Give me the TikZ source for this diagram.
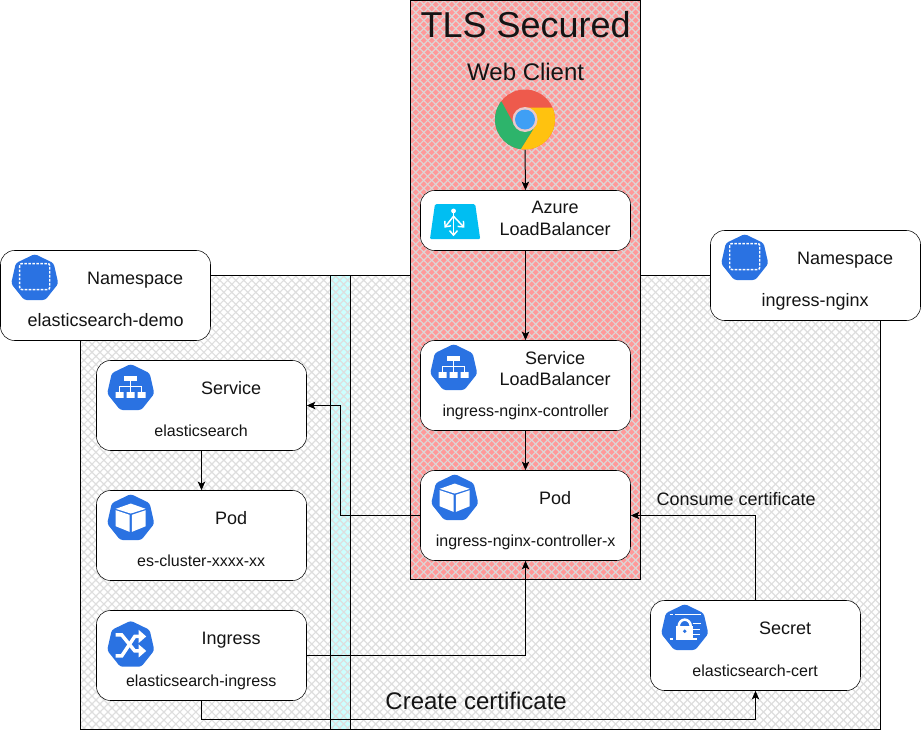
\documentclass[tikz,border=0pt]{standalone}
\usepackage{fontspec}
\setmainfont{Liberation Sans}
\usetikzlibrary{arrows.meta,patterns.meta,positioning}
\definecolor{kblue}{HTML}{2A72E2}
\definecolor{hatchgray}{HTML}{DEDEDE}
\definecolor{hatchred}{HTML}{DCD6D6}
\definecolor{lbcyan}{HTML}{00BEF2}
\definecolor{chred}{HTML}{EE5A4C}
\definecolor{chyellow}{HTML}{FFC20F}
\definecolor{chgreen}{HTML}{2DB46B}
\definecolor{chring}{HTML}{EBC9CB}
\definecolor{chblue}{HTML}{3F9FF5}
\definecolor{panelred}{HTML}{FF9999}
\definecolor{panelcyan}{HTML}{CCFFFF}
\tikzset{
  x=0.75pt,y=-0.75pt,
  line width=0.75pt,
  conn/.style={draw=black,line width=0.75pt,-{Stealth[length=6.5pt,width=5.6pt,inset=1.6pt]}},
  cardbox/.style={draw=black,fill=white,rounded corners=10.5pt,minimum width=157.5pt,inner sep=0pt},
  tall/.style={cardbox,minimum height=67.5pt},
  short/.style={cardbox,minimum height=45pt},
  txt/.style={inner sep=0pt,anchor=base,text=black!92,xshift=0.5pt,yshift=-0.75pt},
  big/.style={txt,font=\fontsize{13.5pt}{16pt}\selectfont},
  small/.style={txt,font=\fontsize{12pt}{14pt}\selectfont},
  large/.style={txt,font=\fontsize{18pt}{21pt}\selectfont},
  huge/.style={txt,font=\fontsize{27pt}{32pt}\selectfont},
  hatchA/.style={pattern={Lines[angle=45,distance=4.24pt,line width=0.9pt]},pattern color=#1},
  hatchB/.style={pattern={Lines[angle=-45,distance=4.24pt,line width=0.9pt]},pattern color=#1},
}
\newcommand{\panelfill}[6]{%
  \fill[#5] (#1,#2) rectangle (#3,#4);
  \path[hatchA=#6] (#1,#2) rectangle (#3,#4);
  \path[hatchB=#6] (#1,#2) rectangle (#3,#4);
}
\newcommand{\hept}{%
  \fill[kblue,rounded corners=2pt] (-90:24.2) -- (-38.57:24.2) -- (12.86:24.2) -- (64.29:24.2) -- (115.71:24.2) -- (167.14:24.2) -- (218.57:24.2) -- cycle;
}
\newcommand{\nsicon}{\hept
  \draw[white,line width=1.1pt,dash pattern=on 2pt off 1pt,rounded corners=1.5pt] (-15,-14.7) rectangle (15,11.3);}
\newcommand{\svcicon}{\hept
  \fill[white] (-6.5,-12.7) rectangle (6.5,-7.7);
  \fill[white] (-15,4) rectangle (-7,9.6) (-4,4) rectangle (4,9.6) (7,4) rectangle (15,9.6);
  \draw[white,line width=0.75pt] (0,-7.7) -- (0,4) (-11,4) -- (-11,-1.5) -- (11,-1.5) -- (11,4);}
\newcommand{\podicon}{\hept
  \fill[white] (-15,-9.4) -- (0,-14.7) -- (15,-9.4) -- (0,-4.7) -- cycle;
  \fill[white] (-15,-8) -- (-1.2,-3.4) -- (-1.2,13.6) -- (-15,8) -- cycle;
  \fill[white] (1.2,-3.4) -- (15,-8) -- (15,8) -- (1.2,13.6) -- cycle;}
\newcommand{\ingicon}{\hept
  \draw[white,line width=2.6pt] (-15,-10) -- (-9,-10) -- (4,6) -- (10,6);
  \draw[white,line width=2.6pt] (-15,11) -- (-9,11) -- (4,-8.5) -- (10,-8.5);
  \fill[white] (8,-0.5) -- (15.5,6) -- (8,12.5) -- cycle;
  \fill[white] (8,-15) -- (15.5,-8.5) -- (8,-2) -- cycle;}
\newcommand{\secicon}{\hept
  \draw[white,line width=1.4pt] (-10,-13.7) -- (16.5,-13.7);
  \draw[white,line width=1.4pt] (-15,-13.7) -- (-12,-13.7);
  \draw[white,line width=1.9pt] (-6,-2) arc[start angle=180,end angle=360,x radius=6,y radius=6.6];
  \fill[white] (-8.3,-2.7) rectangle (8.3,11.3);
  \fill[kblue] (0,3) circle[radius=1.8];
  \draw[white,line width=1.4pt] (8,-4.7) -- (16,-4.7) (8,1.3) -- (15,1.3) (8,6.3) -- (15,6.3);
  \draw[white,line width=1.4pt] (-15,10.7) -- (-12,10.7) (-8,11) -- (12,11);}
\newcommand{\lbicon}{%
  \fill[lbcyan,rounded corners=1pt] (14.7,14) -- (55,14) -- (60,49) -- (9.7,49) -- cycle;
  \fill[white] (33.3,20.7) circle[radius=2.4];
  \draw[white,line width=1.1pt,-{Straight Barb[length=3.4pt,width=6pt]}] (33.3,21) -- (33.3,46);
  \draw[white,line width=1.1pt,-{Straight Barb[length=3.4pt,width=6pt]}] (33.3,26) -- (24.2,37.5);
  \draw[white,line width=1.1pt,-{Straight Barb[length=3.4pt,width=6pt]}] (33.3,26) -- (44.2,37.5);}
\begin{document}
\begin{tikzpicture}
\useasboundingbox (0.5,0.5) rectangle (921.5,732.5);
% panels
\panelfill{81}{276}{881}{730}{white}{hatchgray}
\draw (81,276) rectangle (881,730);
\panelfill{331}{276}{351}{730}{panelcyan}{hatchgray}
\draw (331,276) rectangle (351,730);
\panelfill{411}{1}{641}{580}{panelred}{hatchred}
\draw (411,1) rectangle (641,580);
% cards
\node[tall] (nsl) at (106,296) {};
\node[tall] (nsr) at (816,276) {};
\node[short] (azure) at (526,221) {};
\node[tall] (svclb) at (526,386) {};
\node[tall] (podx) at (526,516) {};
\node[tall] (svc) at (202,406) {};
\node[tall] (pode) at (202,536) {};
\node[tall] (ing) at (202,656) {};
\node[tall] (sec) at (756,646) {};
% icons
\begin{scope}[shift={(nsl.north west)}]\begin{scope}[shift={(34.5,28)}]\nsicon\end{scope}\end{scope}
\begin{scope}[shift={(nsr.north west)}]\begin{scope}[shift={(34.5,28)}]\nsicon\end{scope}\end{scope}
\begin{scope}[shift={(svclb.north west)}]\begin{scope}[shift={(33.5,28)}]\svcicon\end{scope}\end{scope}
\begin{scope}[shift={(svc.north west)}]\begin{scope}[shift={(34.5,28)}]\svcicon\end{scope}\end{scope}
\begin{scope}[shift={(podx.north west)}]\begin{scope}[shift={(34.5,28)}]\podicon\end{scope}\end{scope}
\begin{scope}[shift={(pode.north west)}]\begin{scope}[shift={(34.5,28)}]\podicon\end{scope}\end{scope}
\begin{scope}[shift={(ing.north west)}]\begin{scope}[shift={(34.5,34.7)}]\ingicon\end{scope}\end{scope}
\begin{scope}[shift={(sec.north west)}]\begin{scope}[shift={(34.5,28)}]\secicon\end{scope}\end{scope}
\begin{scope}[shift={(azure.north west)}]\lbicon\end{scope}
% chrome
\node[circle,minimum size=45pt,inner sep=0pt] (chrome) at (525.5,120) {};
\begin{scope}
\clip (525.5,120) circle[radius=30];
\fill[chred] (490,80) rectangle (570,160);
\fill[chyellow] (525.5,108) -- (570,108) -- (570,160) -- (521,160) -- (521,150) -- (536,126) -- cycle;
\fill[chgreen] (502,102) -- (515,126) -- (536,126) -- (521,150) -- (521,160) -- (480,160) -- (480,102) -- cycle;
\end{scope}
\fill[chring] (525.5,120) circle[radius=12.5];
\fill[chblue] (525.5,120) circle[radius=10];
% text
\node[huge] (tls) at (525.5,37) {TLS Secured};
\node[large] (web) at (525.5,80) {Web Client};
\node[big] (az1) at (555,213) {Azure};
\node[big] (az2) at (555,235) {LoadBalancer};
\node[big] (nsl1) at (135,284) {Namespace};
\node[big] (nsl2) at (105.5,326) {elasticsearch-demo};
\node[big] (nsr1) at (845,264) {Namespace};
\node[big] (nsr2) at (815,306) {ingress-nginx};
\node[big] (lb1) at (555,364) {Service};
\node[big] (lb2) at (555,385) {LoadBalancer};
\node[small] (lb3) at (525.5,416) {ingress-nginx-controller};
\node[big] (px1) at (555,504) {Pod};
\node[small] (px2) at (525.5,546) {ingress-nginx-controller-x};
\node[big] (sv1) at (231,394) {Service};
\node[small] (sv2) at (201,436) {elasticsearch};
\node[big] (pe1) at (231,524) {Pod};
\node[small] (pe2) at (201,566) {es-cluster-xxxx-xx};
\node[big] (in1) at (231,644) {Ingress};
\node[small] (in2) at (201,686) {elasticsearch-ingress};
\node[big] (se1) at (785,634) {Secret};
\node[small] (se2) at (755,676) {elasticsearch-cert};
\node[big] (cons) at (736,505) {Consume certificate};
\node[large] (crea) at (476,709) {Create certificate};
% connectors
\coordinate (b1) at (341,406);
\coordinate (b2) at (202,720);
\coordinate (b3) at (756,720);
\draw[conn] (chrome.south) -- (azure.north);
\draw[conn] (azure.south) -- (svclb.north);
\draw[conn] (svclb.south) -- (podx.north);
\draw[conn] (svc.south) -- (pode.north);
\draw[conn] (podx.west) -| (b1) -- (svc.east);
\draw[conn] (ing.east) -| (podx.south);
\draw[conn] (ing.south) -- (b2) -- (b3) -- (sec.south);
\draw[conn] (sec.north) |- (podx.east);
\end{tikzpicture}
\end{document}
